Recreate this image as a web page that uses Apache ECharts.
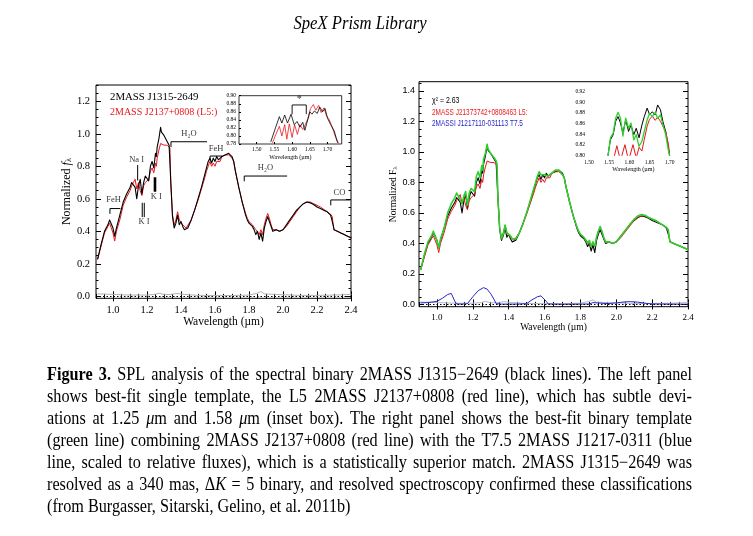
<!DOCTYPE html>
<html><head><meta charset="utf-8">
<script src="https://cdn.jsdelivr.net/npm/echarts@6/dist/echarts.min.js"></script>
<style>html,body{margin:0;padding:0;background:#fff}#c{width:753px;height:536px}</style>
</head><body><div id="c"></div>
<script>
// ---------------- data ----------------
const wl = [0.91,0.93,0.95,0.97,0.98,0.99,1.00,1.01,1.02,1.04,
1.06,1.08,1.10,1.11,1.12,1.13,1.14,1.15,1.16,1.17,
1.18,1.19,1.20,1.21,1.22,1.23,1.24,1.245,1.25,1.255,
1.26,1.27,1.28,1.285,1.29,1.30,1.31,1.32,1.33,1.335,
1.34,1.35,1.36,1.37,1.38,1.39,1.40,1.41,1.42,1.43,
1.44,1.46,1.48,1.50,1.52,1.54,1.55,1.56,1.57,1.58,
1.59,1.60,1.61,1.62,1.63,1.64,1.65,1.66,1.67,1.68,
1.69,1.70,1.71,1.72,1.74,1.76,1.78,1.79,1.80,1.82,
1.83,1.84,1.85,1.86,1.87,1.88,1.89,1.90,1.91,1.92,
1.93,1.94,1.96,1.98,2.00,2.02,2.04,2.06,2.08,2.10,
2.12,2.14,2.16,2.18,2.20,2.22,2.24,2.26,2.28,2.29,
2.295,2.30,2.31,2.32,2.34,2.36,2.38,2.40];
// 2MASS J1315-2649 (black)
const fluxJ1315 = [0.23,0.32,0.40,0.44,0.47,0.48,0.42,0.37,0.42,0.50,
0.58,0.63,0.67,0.70,0.69,0.67,0.60,0.68,0.72,0.63,
0.70,0.74,0.73,0.71,0.80,0.83,0.79,0.80,0.88,0.86,
0.92,0.97,1.04,1.01,1.02,0.99,0.97,0.95,0.93,0.92,
0.70,0.49,0.42,0.45,0.50,0.44,0.46,0.43,0.41,0.40,
0.42,0.47,0.53,0.60,0.67,0.75,0.79,0.83,0.85,0.82,
0.85,0.83,0.86,0.84,0.83,0.86,0.85,0.87,0.86,0.88,
0.87,0.86,0.83,0.77,0.67,0.58,0.50,0.47,0.45,0.43,
0.41,0.38,0.40,0.35,0.39,0.34,0.42,0.46,0.49,0.46,
0.43,0.40,0.41,0.40,0.41,0.44,0.47,0.50,0.53,0.55,
0.57,0.58,0.575,0.565,0.55,0.54,0.53,0.52,0.50,0.49,
0.44,0.41,0.40,0.40,0.39,0.38,0.37,0.36];
// 2MASS J2137+0808 L5 template (red)
const fluxJ2137 = [0.23,0.31,0.39,0.43,0.45,0.46,0.39,0.34,0.40,0.47,
0.56,0.61,0.65,0.68,0.70,0.72,0.66,0.70,0.65,0.62,
0.68,0.70,0.69,0.72,0.77,0.79,0.76,0.75,0.82,0.80,
0.85,0.90,0.94,0.94,0.94,0.93,0.935,0.93,0.92,0.91,
0.70,0.50,0.44,0.47,0.52,0.47,0.48,0.44,0.43,0.42,
0.43,0.47,0.53,0.59,0.66,0.73,0.77,0.80,0.83,0.80,
0.82,0.80,0.83,0.82,0.83,0.86,0.86,0.87,0.86,0.87,
0.87,0.85,0.83,0.77,0.67,0.58,0.51,0.48,0.46,0.44,
0.43,0.41,0.42,0.38,0.41,0.38,0.44,0.48,0.51,0.48,
0.44,0.41,0.41,0.40,0.41,0.43,0.46,0.49,0.52,0.55,
0.57,0.58,0.58,0.57,0.56,0.55,0.535,0.52,0.505,0.49,
0.44,0.41,0.40,0.40,0.39,0.38,0.37,0.36];
// best-fit binary template (green)
const fluxBinary = [0.23,0.33,0.41,0.45,0.48,0.49,0.42,0.37,0.43,0.50,
0.60,0.66,0.70,0.73,0.71,0.72,0.66,0.71,0.74,0.65,
0.73,0.76,0.76,0.74,0.84,0.87,0.83,0.83,0.91,0.88,
0.95,0.99,1.05,1.02,1.02,0.99,0.98,0.96,0.94,0.92,
0.70,0.50,0.43,0.46,0.52,0.47,0.48,0.45,0.43,0.42,
0.43,0.47,0.53,0.60,0.68,0.76,0.80,0.84,0.87,0.85,
0.86,0.85,0.86,0.84,0.84,0.86,0.86,0.88,0.87,0.88,
0.87,0.85,0.83,0.77,0.67,0.58,0.51,0.48,0.46,0.44,
0.43,0.40,0.42,0.38,0.41,0.38,0.44,0.48,0.51,0.48,
0.44,0.41,0.41,0.40,0.41,0.44,0.47,0.50,0.53,0.56,
0.58,0.59,0.585,0.57,0.56,0.55,0.535,0.52,0.505,0.49,
0.44,0.41,0.40,0.40,0.39,0.38,0.37,0.36];
// T7.5 2MASSI J1217-0311 scaled (blue)
const wlT75 = [0.91,0.95,1.00,1.03,1.06,1.08,1.09,1.10,1.11,1.14,1.17,1.20,1.23,1.26,1.28,1.30,1.32,1.33,1.36,1.45,1.50,1.53,1.56,1.58,1.59,1.61,1.62,1.70,1.80,1.85,1.87,1.88,1.95,2.00,2.05,2.08,2.12,2.16,2.20,2.30,2.40];
const fluxT75 = [0.01,0.012,0.02,0.04,0.065,0.072,0.06,0.02,0.003,0.002,0.005,0.05,0.09,0.11,0.10,0.07,0.03,0.005,0.002,0.002,0.005,0.03,0.05,0.056,0.05,0.02,0.003,0.001,0.002,0.003,0.012,0.0,0.005,0.01,0.017,0.018,0.015,0.008,0.003,0.002,0.001];
// noise spectrum (grey)
const wlNoise = [0.91,1.00,1.10,1.20,1.25,1.27,1.30,1.35,1.37,1.42,1.50,1.60,1.70,1.80,1.85,1.87,1.89,1.95,2.00,2.10,2.20,2.30,2.40];
const fluxNoise = [0.015,0.012,0.008,0.008,0.012,0.02,0.01,0.012,0.018,0.012,0.006,0.005,0.005,0.008,0.02,0.03,0.015,0.012,0.01,0.006,0.006,0.008,0.012];
// left inset (H band zoom)
const insetLWlBlack = [1.54,1.553,1.564,1.571,1.579,1.587,1.597,1.606,1.614,1.622,1.630,1.636,1.644,1.650,1.656,1.663,1.671,1.678,1.686,1.693,1.700,1.709,1.719,1.728];
const insetLBlack = [0.786,0.82,0.848,0.832,0.852,0.832,0.854,0.828,0.836,0.822,0.834,0.814,0.84,0.86,0.854,0.862,0.856,0.872,0.86,0.868,0.844,0.828,0.812,0.784];
const insetLWlRed = [1.545,1.554,1.564,1.571,1.579,1.585,1.592,1.600,1.607,1.615,1.622,1.630,1.637,1.645,1.652,1.660,1.667,1.675,1.682,1.690,1.697,1.705,1.714,1.723,1.731];
const insetLRed = [0.784,0.804,0.824,0.80,0.828,0.792,0.83,0.796,0.828,0.804,0.828,0.816,0.828,0.844,0.868,0.878,0.864,0.876,0.858,0.87,0.85,0.84,0.82,0.796,0.782];
// right inset
const insetRWl = [1.547,1.553,1.56,1.566,1.572,1.578,1.584,1.591,1.598,1.604,1.611,1.617,1.624,1.631,1.637,1.644,1.650,1.657,1.664,1.670,1.677,1.683,1.69,1.697,1.70];
const insetRBlack = [0.80,0.829,0.839,0.864,0.873,0.861,0.842,0.867,0.845,0.857,0.839,0.851,0.833,0.857,0.873,0.889,0.877,0.882,0.876,0.895,0.886,0.864,0.845,0.814,0.798];
const insetRGreen = [0.798,0.833,0.842,0.87,0.881,0.87,0.836,0.87,0.851,0.861,0.829,0.839,0.817,0.826,0.845,0.867,0.879,0.873,0.881,0.87,0.876,0.858,0.839,0.808,0.798];
const insetRWlRed = [1.56,1.569,1.578,1.589,1.598,1.609,1.617,1.624,1.631,1.637,1.644,1.650,1.657,1.664,1.670,1.677,1.683,1.69,1.697,1.70];
const insetRRed = [0.79,0.818,0.79,0.82,0.79,0.82,0.795,0.815,0.808,0.83,0.855,0.868,0.874,0.866,0.872,0.864,0.855,0.845,0.82,0.795];
// feature annotations (data coordinates)
const featureNames = ['FeH','Na I','K I','K I','H\u2082O','FeH','H\u2082O','CO'];
const featureX = [1.003,1.139,1.255,1.182,1.447,1.606,1.897,2.332];
const featureY = [0.593,0.839,0.611,0.459,0.999,0.909,0.79,0.636];
const featureBrackets = [
  [[0.982,0.51],[0.982,0.54],[1.041,0.54]],
  [[1.341,0.92],[1.341,0.951],[1.551,0.951]],
  [[1.571,0.839],[1.571,0.863],[1.639,0.863]],
  [[1.772,0.71],[1.772,0.74],[2.022,0.74]],
  [[2.281,0.562],[2.281,0.593],[2.394,0.593]],
  [[1.145,0.805],[1.145,0.715]],
  [[1.172,0.573],[1.172,0.49]],
  [[1.184,0.573],[1.184,0.49]]
];
const featureKIbar = [[1.247,0.733],[1.247,0.644]];
const insetBracket = [[1.60,0.855],[1.60,0.877],[1.64,0.877],[1.64,0.855]];
const insetStar = [1.62,0.891];
// tick values
const xTicksMain = [1.0,1.2,1.4,1.6,1.8,2.0,2.2,2.4];
const yTicksLeft = [0.0,0.2,0.4,0.6,0.8,1.0,1.2];
const yTicksRight = [0.0,0.2,0.4,0.6,0.8,1.0,1.2,1.4];
const xTicksInset = [1.50,1.55,1.60,1.65,1.70];
const yTicksInsetL = [0.78,0.80,0.82,0.84,0.86,0.88,0.90];
const yTicksInsetR = [0.80,0.82,0.84,0.86,0.88,0.90,0.92];

const captionLines = [
 "**Figure** **3.** SPL analysis of the spectral binary 2MASS J1315\u22122649 (black lines). The left panel",
 "shows best-fit single template, the L5 2MASS J2137+0808 (red line), which has subtle devi-",
 "ations at 1.25 _\u03bc_m and 1.58 _\u03bc_m (inset box). The right panel shows the best-fit binary template",
 "(green line) combining 2MASS J2137+0808 (red line) with the T7.5 2MASS J1217-0311 (blue",
 "line, scaled to relative fluxes), which is a statistically superior match. 2MASS J1315\u22122649 was",
 "resolved as a 340 mas, \u0394_K_ = 5 binary, and resolved spectroscopy confirmed these classifications",
 "(from Burgasser, Sitarski, Gelino, et al. 2011b)"
];

// ---------------- helpers ----------------
const SERIF = '"Liberation Serif","Times New Roman",serif';
const SANS = '"Liberation Sans",Arial,sans-serif';
const zip = (xs, ys) => xs.map((x, i) => [x, ys[i]]);
function steps(a, b, s){ const o=[]; for(let k=0; a+k*s <= b+1e-9; k++) o.push(+(a+k*s).toFixed(3)); return o; }

const xAxes = [], yAxes = [];
function frame(g, o){
  const xi = xAxes.length, yi = yAxes.length;
  const base = () => ({type:'value', gridIndex:g, axisLine:{show:false}, splitLine:{show:false}});
  xAxes.push(Object.assign(base(), {min:o.xmin, max:o.xmax, position:'bottom',
    axisTick:{show:o.ticks, inside:true, length:o.major, customValues:o.xMajor.slice(), lineStyle:{color:'#000', width:1}},
    axisLabel:{show:true, customValues:o.xMajor.slice(), fontSize:o.xfs, fontFamily:o.xff, color:'#000', margin:o.xm, formatter:v=>(+v).toFixed(o.xd)},
    name:o.xname, nameLocation:'middle', nameGap:o.xgap, nameTextStyle:{fontSize:o.xnfs, fontFamily:SERIF, color:'#000'}}));
  if (o.minorX) {
    xAxes.push(Object.assign(base(), {min:o.xmin, max:o.xmax, position:'bottom',
      axisTick:{show:true, inside:true, length:o.minor, customValues:o.minorX.slice(), lineStyle:{color:'#000', width:1}}, axisLabel:{show:false}}));
  }
  if (o.mirror) {
    xAxes.push(Object.assign(base(), {min:o.xmin, max:o.xmax, position:'top',
      axisTick:{show:true, inside:true, length:o.major, customValues:o.xMajor.slice(), lineStyle:{color:'#000', width:1}}, axisLabel:{show:false}}));
    xAxes.push(Object.assign(base(), {min:o.xmin, max:o.xmax, position:'top',
      axisTick:{show:true, inside:true, length:o.minor, customValues:o.minorX.slice(), lineStyle:{color:'#000', width:1}}, axisLabel:{show:false}}));
  }
  yAxes.push(Object.assign(base(), {min:o.ymin, max:o.ymax, position:'left',
    axisTick:{show:o.ticks, inside:true, length:o.major, customValues:o.yMajor.slice(), lineStyle:{color:'#000', width:1}},
    axisLabel:{show:true, customValues:o.yMajor.slice(), fontSize:o.yfs, fontFamily:o.yff, color:'#000', margin:o.ym, formatter:v=>(+v).toFixed(o.yd)},
    name:o.yname, nameLocation:'middle', nameGap:o.ygap, nameRotate:90,
    nameTextStyle:{fontSize:o.ynfs, fontFamily:SERIF, color:'#000', rich:o.yrich}}));
  if (o.minorY) {
    yAxes.push(Object.assign(base(), {min:o.ymin, max:o.ymax, position:'left',
      axisTick:{show:true, inside:true, length:o.minor, customValues:o.minorY.slice(), lineStyle:{color:'#000', width:1}}, axisLabel:{show:false}}));
  }
  if (o.mirror) {
    yAxes.push(Object.assign(base(), {min:o.ymin, max:o.ymax, position:'right',
      axisTick:{show:true, inside:true, length:o.major, customValues:o.yMajor.slice(), lineStyle:{color:'#000', width:1}}, axisLabel:{show:false}}));
    yAxes.push(Object.assign(base(), {min:o.ymin, max:o.ymax, position:'right',
      axisTick:{show:true, inside:true, length:o.minor, customValues:o.minorY.slice(), lineStyle:{color:'#000', width:1}}, axisLabel:{show:false}}));
  }
  return {xi, yi};
}

const grids = [
  {left:96, top:85, width:255, height:213.3, show:true, borderColor:'#000', borderWidth:1, backgroundColor:'transparent', outerBoundsMode:'none'},
  {left:239, top:95.7, width:102.7, height:48.3, show:true, borderColor:'#000', borderWidth:0.8, backgroundColor:'#fff', outerBoundsMode:'none'},
  {left:419, top:81.7, width:269, height:225, show:true, borderColor:'#000', borderWidth:1, backgroundColor:'transparent', outerBoundsMode:'none'},
  {left:589, top:91.7, width:88.8, height:63.6, show:false, outerBoundsMode:'none'}
];

const A0 = frame(0, {xmin:0.9, xmax:2.4, ymin:-0.012, ymax:1.30, xMajor:xTicksMain, yMajor:yTicksLeft,
  minorX:steps(0.9,2.4,0.05), minorY:steps(0,1.3,0.05), mirror:true, ticks:true, major:5, minor:2.5,
  xfs:10.5, xff:SERIF, xm:6, xd:1, yfs:10.5, yff:SERIF, ym:6, yd:1,
  xname:'Wavelength (\u00b5m)', xgap:17, xnfs:11.5,
  yname:'{n|Normalized }{i|f}{s|\u03bb}', ygap:22, ynfs:12,
  yrich:{n:{fontSize:12, fontFamily:SERIF}, i:{fontSize:12, fontFamily:SERIF, fontStyle:'italic'}, s:{fontSize:8, fontFamily:SERIF, verticalAlign:'bottom', padding:[4,0,0,0]}}});
const A1 = frame(1, {xmin:1.45, xmax:1.74, ymin:0.78, ymax:0.90, xMajor:xTicksInset, yMajor:yTicksInsetL,
  minorX:null, minorY:null, mirror:false, ticks:true, major:2, minor:1,
  xfs:5.5, xff:SERIF, xm:3, xd:2, yfs:5.5, yff:SERIF, ym:3, yd:2,
  xname:'Wavelength (\u00b5m)', xgap:10, xnfs:6, yname:'', ygap:0, ynfs:6, yrich:{}});
const A2 = frame(2, {xmin:0.9, xmax:2.4, ymin:-0.015, ymax:1.46, xMajor:xTicksMain, yMajor:yTicksRight,
  minorX:steps(0.9,2.4,0.05), minorY:steps(0,1.45,0.05), mirror:true, ticks:true, major:5, minor:2.5,
  xfs:9, xff:SERIF, xm:6, xd:1, yfs:9, yff:SANS, ym:4, yd:1,
  xname:'Wavelength (\u00b5m)', xgap:15, xnfs:9.5,
  yname:'{n|Normalized F}{s|\u03bb}', ygap:13, ynfs:9.5,
  yrich:{n:{fontSize:9.5, fontFamily:SERIF}, s:{fontSize:7, fontFamily:SERIF, verticalAlign:'bottom', padding:[3,0,0,0]}}});
const A3 = frame(3, {xmin:1.50, xmax:1.72, ymin:0.80, ymax:0.92, xMajor:xTicksInset, yMajor:yTicksInsetR,
  minorX:null, minorY:null, mirror:false, ticks:false, major:2, minor:1,
  xfs:5.5, xff:SERIF, xm:4, xd:2, yfs:5.5, yff:SERIF, ym:4, yd:2,
  xname:'Wavelength (\u00b5m)', xgap:10, xnfs:6, yname:'', ygap:0, ynfs:6, yrich:{}});

function line(ax, data, color, width, extra){
  return Object.assign({type:'line', xAxisIndex:ax.xi, yAxisIndex:ax.yi, data, showSymbol:false, symbol:'none',
    clip:true, animation:false, silent:true, lineStyle:{color, width, join:'round', cap:'round'}, itemStyle:{color}}, extra||{});
}
const zeroLine = () => ({silent:true, symbol:['none','none'], label:{show:false}, animation:false,
  lineStyle:{type:[1.5,2], color:'#000', width:1.2}, data:[{yAxis:0}]});

const series = [
  // left panel
  line(A0, zip(wlNoise, fluxNoise), '#b0b0b0', 1),
  line(A0, zip(wl, fluxJ2137), '#e8161b', 1),
  line(A0, zip(wl, fluxJ1315), '#000', 1.1, {markLine:zeroLine()}),
  ...featureBrackets.map(b => line(A0, b, '#000', 1)),
  line(A0, featureKIbar, '#000', 2.6, {lineStyle:{color:'#000', width:2.6, cap:'butt'}}),
  {type:'scatter', xAxisIndex:A0.xi, yAxisIndex:A0.yi, symbolSize:1, silent:true, animation:false,
   itemStyle:{color:'rgba(0,0,0,0)'},
   data: featureNames.map((n, i) => ({name:n, value:[featureX[i], featureY[i]]})),
   label:{show:true, position:'inside', formatter:p => p.name, fontSize:8.5, fontFamily:SERIF, color:'#000'}},
  // left inset
  line(A1, zip(insetLWlRed, insetLRed), '#e8161b', 0.8),
  line(A1, zip(insetLWlBlack, insetLBlack), '#000', 0.8),
  line(A1, insetBracket, '#000', 0.9),
  {type:'scatter', xAxisIndex:A1.xi, yAxisIndex:A1.yi, symbolSize:1, silent:true, animation:false,
   itemStyle:{color:'rgba(0,0,0,0)'}, data:[{name:'*', value:insetStar}],
   label:{show:true, position:'inside', formatter:'*', fontSize:10, fontFamily:SERIF, color:'#000'}},
  // right panel
  line(A2, zip(wlNoise, fluxNoise), '#b4b4c8', 1),
  line(A2, zip(wlT75, fluxT75), '#2626c8', 1),
  line(A2, zip(wl, fluxJ1315), '#000', 1.1, {markLine:zeroLine()}),
  line(A2, zip(wl, fluxJ2137), '#e8161b', 1),
  line(A2, zip(wl, fluxBinary), '#2fcf2f', 1.6),
  // right inset
  line(A3, zip(insetRWl, insetRBlack), '#000', 1),
  line(A3, zip(insetRWlRed, insetRRed), '#e8161b', 1),
  line(A3, zip(insetRWl, insetRGreen), '#2fcf2f', 1.3)
];

// caption (justified, slightly condensed like the scan) and other text
const capFont = SERIF, capSize = 18, capScale = 0.9, capX = 47, capW = 645, capY0 = 375, capLH = 22;
const mctx = document.createElement('canvas').getContext('2d');
function segs(word){
  return word.split(/(\*\*[^*]+\*\*|_[^_]+_)/).filter(s => s.length).map(p => {
    if (p.startsWith('**')) return {t:p.slice(2,-2), b:true, i:false};
    if (p.length > 2 && p.startsWith('_') && p.endsWith('_')) return {t:p.slice(1,-1), b:false, i:true};
    return {t:p, b:false, i:false};
  });
}
const fontStr = s => (s.i ? 'italic ' : 'normal ') + (s.b ? 'bold ' : 'normal ') + capSize + 'px ' + capFont;
const graphics = [];
captionLines.forEach((line, li) => {
  const words = line.split(/\s+/).filter(Boolean).map(w => {
    const ss = segs(w);
    ss.forEach(s => { mctx.font = fontStr(s); s.w = mctx.measureText(s.t).width * capScale; });
    return {ss, w: ss.reduce((a, s) => a + s.w, 0)};
  });
  const total = words.reduce((a, w) => a + w.w, 0);
  mctx.font = fontStr({b:false, i:false});
  const sp = mctx.measureText(' ').width * capScale;
  const last = li === captionLines.length - 1;
  const gap = last ? sp : (capW - total) / (words.length - 1);
  let x = capX; const y = capY0 + li * capLH;
  words.forEach(w => {
    let sx = x;
    w.ss.forEach(s => {
      graphics.push({type:'text', x:sx, y, scaleX:capScale, z:100, silent:true, style:{text:s.t, fontSize:capSize, fontFamily:capFont,
        fontWeight:s.b ? 'bold' : 'normal', fontStyle:s.i ? 'italic' : 'normal', fill:'#000', verticalAlign:'middle', align:'left'}});
      sx += s.w;
    });
    x += w.w + gap;
  });
});
function txt(x, y, text, size, fam, color, extra, sx){
  graphics.push({type:'text', x, y, scaleX:sx||1, z:100, silent:true, style:Object.assign({text, fontSize:size, fontFamily:fam, fill:color, verticalAlign:'middle', align:'left'}, extra||{})});
}
txt(360, 24, 'SpeX Prism Library', 18.5, SERIF, '#000', {align:'center', fontStyle:'italic'}, 0.9);
txt(110, 96.7, '2MASS J1315-2649', 10.8, SERIF, '#000');
txt(110, 112.3, '2MASS J2137+0808 (L5:)', 10, SERIF, '#e8161b');
txt(432, 100.7, '\u03c7\u00b2 = 2.63', 8.5, SANS, '#000', null, 0.82);
txt(432, 112.3, '2MASS J21373742+0808463 L5:', 8.5, SANS, '#e8161b', null, 0.76);
txt(432, 123.3, '2MASSI J1217110-031113 T7.5', 8.5, SANS, '#2626c8', null, 0.76);

const chart = echarts.init(document.getElementById('c'), null, {renderer:'canvas', width:753, height:536});
chart.setOption({
  backgroundColor:'#fff',
  animation:false,
  grid:grids,
  xAxis:xAxes,
  yAxis:yAxes,
  series,
  graphic:graphics
});
</script>
</body></html>
